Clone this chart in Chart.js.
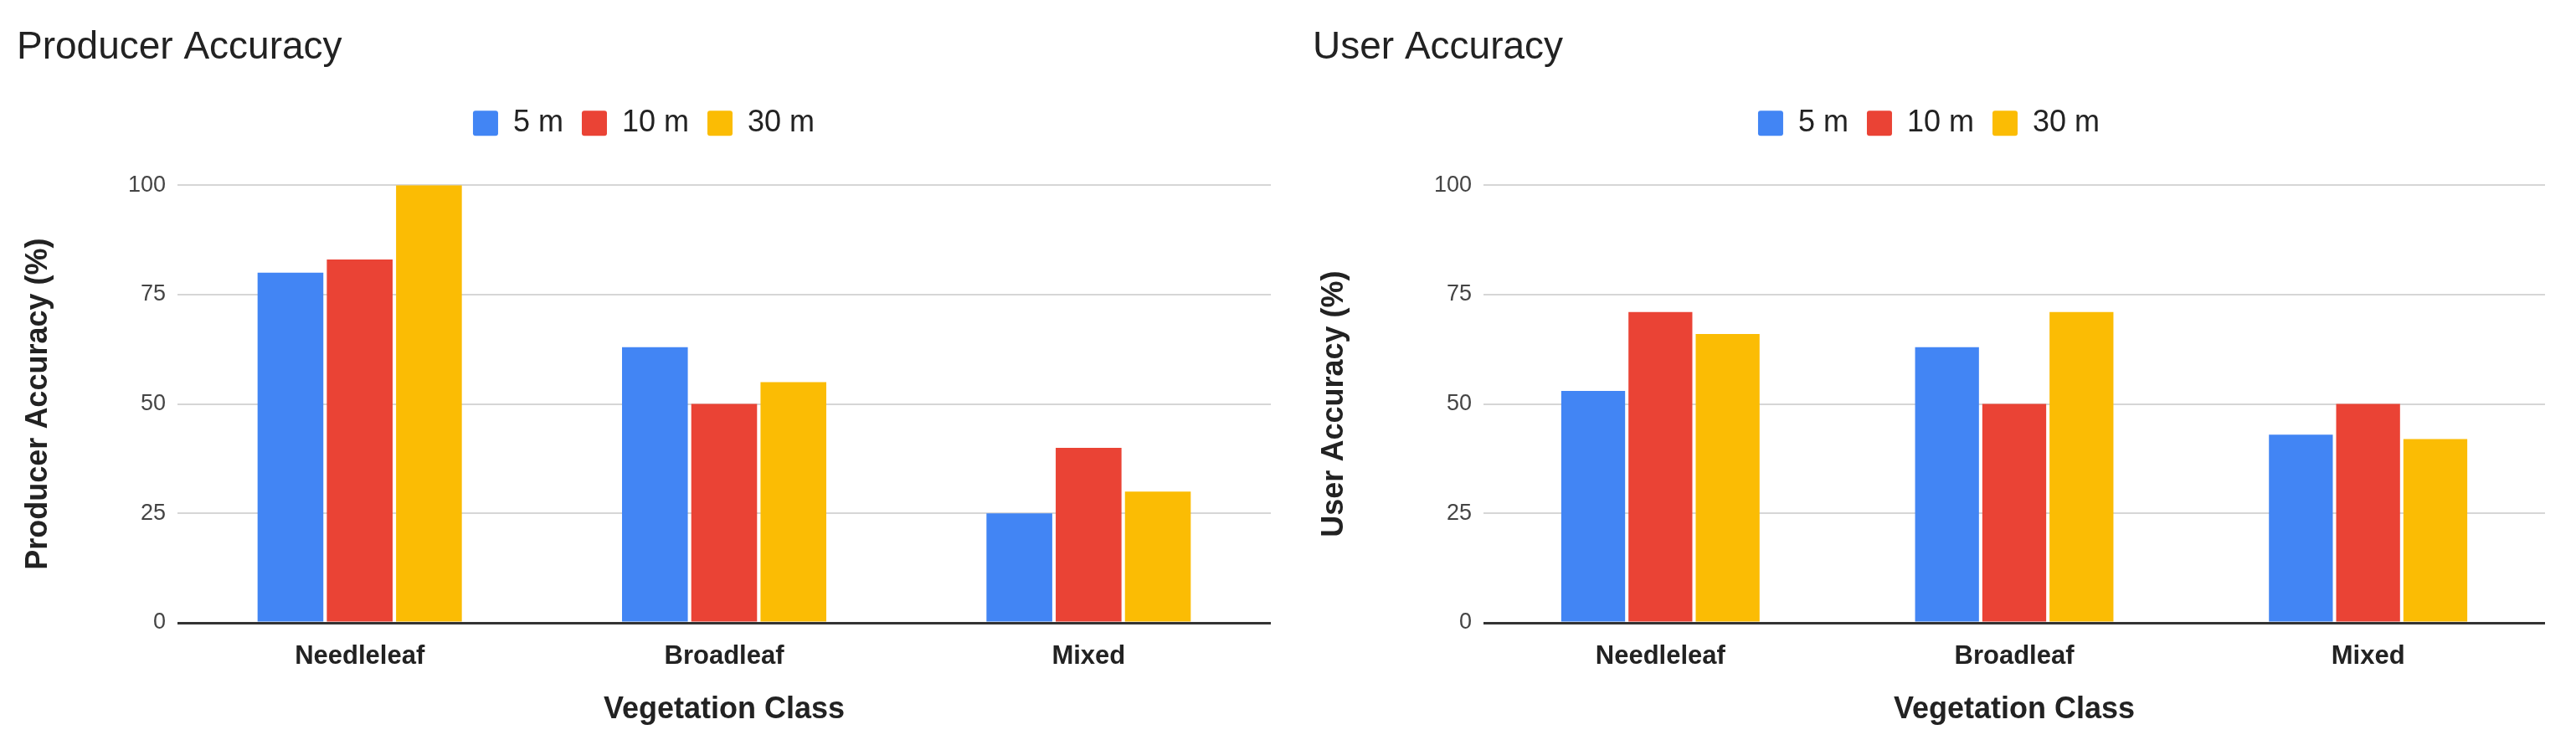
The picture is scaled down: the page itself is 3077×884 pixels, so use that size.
<!DOCTYPE html>
<html>
<head>
<meta charset="utf-8">
<script src="https://cdn.jsdelivr.net/npm/chart.js@4"></script>
<style>
  body { margin: 0; background: #fff; }
  .box { position: absolute; top: 0; width: 1538px; height: 884px; }
</style>
</head>
<body>
<div class="box" style="left:0"><canvas id="producer-chart"></canvas></div>
<div class="box" style="left:1538px"><canvas id="user-chart"></canvas></div>
<script>
var categories = ["Needleleaf", "Broadleaf", "Mixed"];
var seriesLabels = ["5 m", "10 m", "30 m"];
var seriesColors = ["#4285f4", "#ea4335", "#fbbc04"];
var yTicks = [0, 25, 50, 75, 100];

var producer5 = [80, 63, 25];
var producer10 = [83, 50, 40];
var producer30 = [100, 55, 30];

var user5 = [53, 63, 43];
var user10 = [71, 50, 50];
var user30 = [66, 71, 42];

var font = "'Liberation Sans', Arial, sans-serif";

// stretch legend height so the plot starts lower
var legendGap = {
  id: 'legendGap',
  beforeUpdate: function (chart) {
    if (chart.legend && !chart.legend._patched) {
      var fit = chart.legend.fit;
      chart.legend.fit = function () {
        fit.call(this);
        this.height += 46;
      };
      chart.legend._patched = true;
    }
  }
};

function accuracyChart(id, title, yTitle, values, axisWidth, pad) {
  var datasets = values.map(function (v, i) {
    return {
      label: seriesLabels[i],
      data: v,
      backgroundColor: seriesColors[i],
      categoryPercentage: 0.57,
      barPercentage: 0.95
    };
  });
  return new Chart(document.getElementById(id), {
    type: 'bar',
    data: { labels: categories, datasets: datasets },
    plugins: [legendGap],
    options: {
      responsive: true,
      maintainAspectRatio: false,
      animation: false,
      layout: { padding: pad },
      scales: {
        x: {
          grid: { display: false },
          border: { display: false },
          ticks: { color: "#222", font: { family: font, size: 31, weight: 'bold' }, padding: 14 },
          title: { display: true, text: 'Vegetation Class', color: "#222", font: { family: font, size: 36, weight: 'bold' }, padding: { top: 22 } },
          afterFit: function (s) { s.height = 130; }
        },
        y: {
          min: 0,
          max: 100,
          afterBuildTicks: function (s) { s.ticks = yTicks.map(function (t) { return { value: t }; }); },
          grid: {
            color: function (c) { return c.tick && c.tick.value === 0 ? "#333" : "#d6d6d6"; },
            lineWidth: function (c) { return c.tick && c.tick.value === 0 ? 3 : 2; },
            drawTicks: false
          },
          border: { display: false },
          ticks: { color: "#444", font: { family: font, size: 27 }, padding: 14 },
          title: { display: true, text: yTitle, color: "#222", font: { family: font, size: 36, weight: 'bold' } },
          afterFit: function (s) { s.width = axisWidth; }
        }
      },
      plugins: {
        legend: {
          display: true,
          position: 'top',
          labels: { color: "#222", font: { family: font, size: 36 }, boxWidth: 30, boxHeight: 30, padding: 22, useBorderRadius: true, borderRadius: 3 }
        },
        title: {
          display: true,
          text: title,
          align: 'start',
          color: "#222",
          font: { family: font, size: 46, weight: 'normal' },
          padding: { top: 22, bottom: 22 }
        },
        tooltip: { enabled: false }
      }
    }
  });
}

accuracyChart("producer-chart", "Producer Accuracy", "Producer Accuracy (%)",
  [producer5, producer10, producer30], 192, { left: 20, right: 20, top: 8, bottom: 10 });
accuracyChart("user-chart", "User Accuracy", "User Accuracy (%)",
  [user5, user10, user30], 204, { left: 30, right: 36, top: 8, bottom: 10 });
</script>
</body>
</html>
